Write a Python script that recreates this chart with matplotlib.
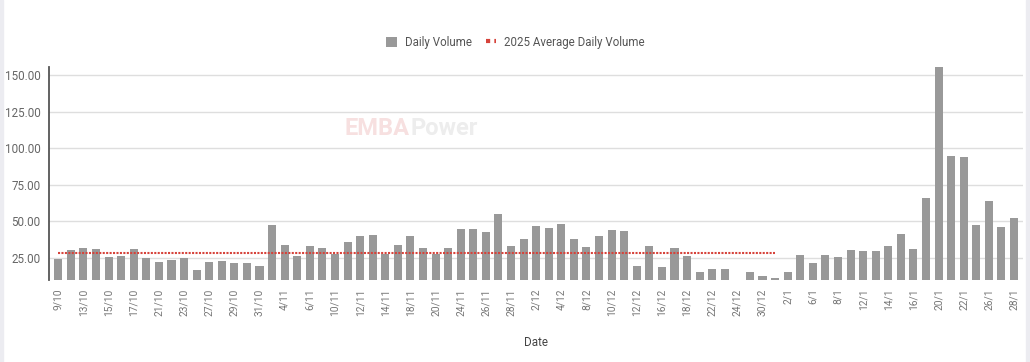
import matplotlib
matplotlib.use("Agg")
import matplotlib.pyplot as plt
from matplotlib.patches import Patch, Rectangle
from matplotlib.lines import Line2D

plt.rcParams['font.family'] = ['Roboto', 'DejaVu Sans']

# ---- data ----
dates = ["9/10", "10/10", "13/10", "14/10", "15/10", "16/10", "17/10", "20/10", "21/10", "22/10",
         "23/10", "24/10", "27/10", "28/10", "29/10", "30/10", "31/10",
         "3/11", "4/11", "5/11", "6/11", "7/11", "10/11", "11/11", "12/11", "13/11", "14/11",
         "17/11", "18/11", "19/11", "20/11", "21/11", "24/11", "25/11", "26/11", "27/11", "28/11",
         "1/12", "2/12", "3/12", "4/12", "5/12", "8/12", "9/12", "10/12", "11/12", "12/12",
         "15/12", "16/12", "17/12", "18/12", "19/12", "22/12", "23/12", "24/12", "29/12", "30/12", "31/12",
         "2/1", "5/1", "6/1", "7/1", "8/1", "9/1", "12/1", "13/1", "14/1", "15/1", "16/1",
         "19/1", "20/1", "21/1", "22/1", "23/1", "26/1", "27/1", "28/1"]

daily_volume = [24.5, 30.7, 32.0, 31.4, 25.7, 26.4, 31.4, 25.0, 22.5, 23.6, 25.0, 16.6, 22.5,
                23.0, 21.8, 21.8, 19.8, 47.3, 34.1, 26.1, 33.2, 31.8, 27.5, 35.7, 40.2, 40.9,
                27.5, 33.9, 40.2, 31.8, 27.5, 31.8, 44.5, 44.5, 42.7, 55.0, 33.2, 38.2, 46.6,
                45.5, 48.0, 38.2, 32.5, 40.2, 44.1, 43.4, 19.8, 33.2, 19.1, 31.8, 26.6, 15.5,
                17.3, 17.3, 10.3, 15.5, 12.7, 11.6, 15.5, 26.8, 21.8, 26.8, 25.5, 30.5, 30.0,
                29.5, 33.4, 41.1, 31.4, 66.1, 155.3, 94.8, 94.1, 47.5, 64.1, 46.4, 52.5]

avg_2025 = 28.4
avg_2025_dates = dates[:58]          # 9/10 .. 31/12
y_ticks = [25, 50, 75, 100, 125, 150]

# ---- figure ----
fig = plt.figure(figsize=(10.30, 3.62), dpi=100)
fig.patch.set_facecolor('white')
# light frame strips at the sides
fig.add_artist(Rectangle((0, 0), 3 / 1030, 1, transform=fig.transFigure, color='#ececf1', zorder=0))
fig.add_artist(Rectangle((1 - 4 / 1030, 0), 4 / 1030, 1, transform=fig.transFigure, color='#ececf1', zorder=0))

ax = fig.add_axes([49 / 1030, 1 - 280 / 362, (1022.7 - 49) / 1030, (280 - 67.3) / 362])

x = list(range(len(dates)))
ax.bar(x, daily_volume, width=0.64, color='#999999', zorder=2)
avg_x = [dates.index(d) for d in avg_2025_dates]
ax.plot(avg_x, [avg_2025] * len(avg_x), color='#d6433b', lw=1.5,
        linestyle=(0, (1, 0.65)), zorder=3)

ax.set_xlim(-0.74, 76.69)
ax.set_ylim(10, 155.3)
ax.set_yticks(y_ticks)
ax.set_yticklabels([f"{v:.2f}" for v in y_ticks])
ax.yaxis.grid(True, color='#dedede', lw=1, zorder=0)
ax.set_axisbelow(True)

ax.set_xticks(x[::2])
ax.set_xticklabels(dates[::2], rotation=90, fontsize=7.4, color='#777777')
ax.tick_params(axis='x', length=0, pad=6)
ax.tick_params(axis='y', length=0, pad=6, labelsize=8.4, labelcolor='#666666')

for s in ['top', 'right', 'bottom']:
    ax.spines[s].set_visible(False)
ax.spines['left'].set_color('#555555')
ax.spines['left'].set_linewidth(1.3)

ax.set_xlabel('Date', fontsize=8.4, color='#444444')
ax.xaxis.set_label_coords(0.5, -0.262)

# watermark
fig.text(345 / 1030, 1 - 129 / 362, 'EMBA', fontsize=17, fontweight='bold', color='#f7e0e0',
         ha='left', va='center', zorder=1)
fig.text(410 / 1030, 1 - 129 / 362, 'Power', fontsize=17, fontweight='bold', color='#ededed',
         ha='left', va='center', zorder=1)

handles = [Patch(facecolor='#999999', edgecolor='none'),
           Line2D([], [], color='#d6433b', lw=3, linestyle=(0, (1, 1)))]
fig.legend(handles, ['Daily Volume', '2025 Average Daily Volume'], loc='center',
           bbox_to_anchor=(0.5005, 1 - 42.5 / 362), ncol=2, frameon=False,
           fontsize=8.3, labelcolor='#555555', handlelength=0.9, handleheight=1.0,
           handletextpad=0.7, columnspacing=1.2)

fig.savefig('out.png', dpi=100, facecolor='white')
